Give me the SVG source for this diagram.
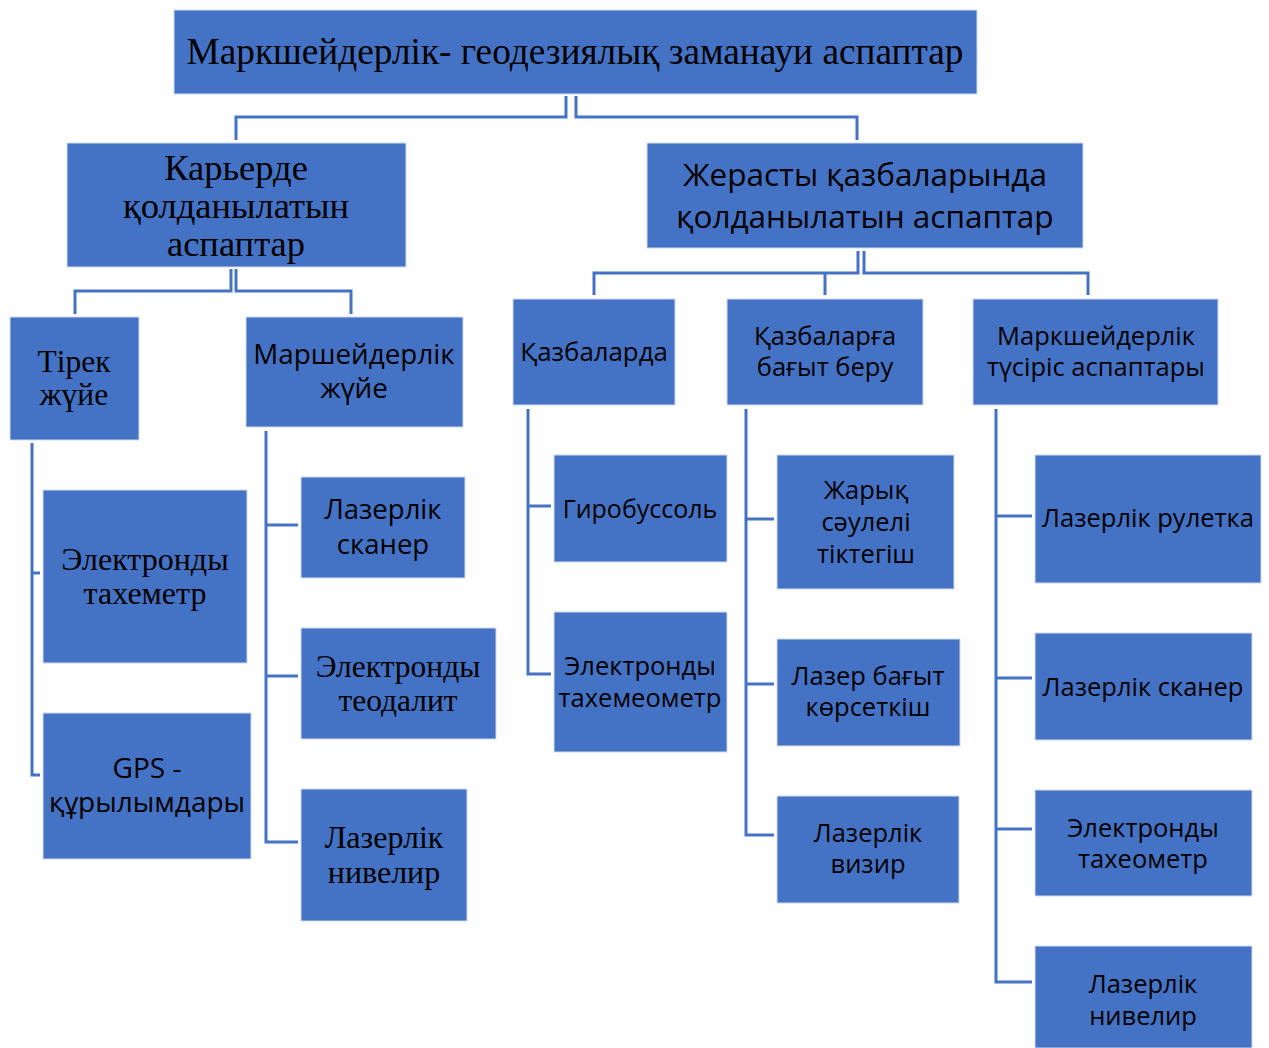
<svg xmlns="http://www.w3.org/2000/svg" width="1269" height="1048" viewBox="0 0 1269 1048">
<style>
.b{fill:#4472C4;stroke:#cfdaf0;stroke-width:1}
.s{font-family:"Open Sans","Noto Sans","Liberation Sans",sans-serif;fill:#000;text-anchor:middle}
.t{font-family:"Liberation Serif","Times New Roman",serif;fill:#000;text-anchor:middle}
.c{fill:none;stroke:#4472C4;stroke-width:3}
</style>
<rect width="1269" height="1048" fill="#fff"/>
<g id="connectors">
<path class="c" d="M566 96V117H236V140M576 96V117H857V140"/>
<path class="c" d="M231 269V291H75V314M236 269V291H351V314"/>
<path class="c" d="M858 251V273H594V295M864 251V273H1088V295M825 273V295"/>
<path class="c" d="M32 443V775H40M32 573H40"/>
<path class="c" d="M266 431V842H298M266 525H298M266 676H298"/>
<path class="c" d="M528 409V674H551M528 506H551"/>
<path class="c" d="M746 409V835H774M746 519H774M746 684H774"/>
<path class="c" d="M996 409V982H1032M996 516H1032M996 678H1032M996 829H1032"/>
</g>
<g id="root"><rect class="b" x="174" y="10" width="803" height="84"/><text class="t" x="575" y="64" font-size="37.3">Маркшейдерлік- геодезиялық заманауи аспаптар</text></g>
<g id="karer"><rect class="b" x="67" y="143" width="339" height="124"/><text class="t" font-size="36.5"><tspan x="236" y="180">Карьерде</tspan><tspan x="236" y="218">қолданылатын</tspan><tspan x="236" y="256">аспаптар</tspan></text></g>
<g id="zherasty"><rect class="b" x="647" y="143" width="436" height="105"/><text class="s" font-size="31.5"><tspan x="865" y="186">Жерасты қазбаларында</tspan><tspan x="865" y="228">қолданылатын аспаптар</tspan></text></g>
<g id="tirek"><rect class="b" x="10" y="317" width="129" height="123"/><text class="t" font-size="31.5"><tspan x="74" y="372">Тірек</tspan><tspan x="74" y="405">жүйе</tspan></text></g>
<g id="marsh"><rect class="b" x="246" y="317" width="217" height="110"/><text class="s" font-size="27.8"><tspan x="354" y="364">Маршейдерлік</tspan><tspan x="354" y="398">жүйе</tspan></text></g>
<g id="el-tah"><rect class="b" x="43" y="490" width="204" height="173"/><text class="t" font-size="32"><tspan x="145" y="570">Электронды</tspan><tspan x="145" y="604">тахеметр</tspan></text></g>
<g id="gps"><rect class="b" x="43" y="713" width="208" height="146"/><text class="s" font-size="28"><tspan x="147" y="778">GPS -</tspan><tspan x="147" y="812">құрылымдары</tspan></text></g>
<g id="laz-scan1"><rect class="b" x="301" y="477" width="164" height="101"/><text class="s" font-size="27.5"><tspan x="383" y="519">Лазерлік</tspan><tspan x="383" y="554">сканер</tspan></text></g>
<g id="el-teo"><rect class="b" x="301" y="628" width="195" height="111"/><text class="t" font-size="31.5"><tspan x="398" y="677">Электронды</tspan><tspan x="398" y="711">теодалит</tspan></text></g>
<g id="laz-niv1"><rect class="b" x="301" y="789" width="166" height="132"/><text class="t" font-size="32"><tspan x="384" y="848">Лазерлік</tspan><tspan x="384" y="883">нивелир</tspan></text></g>
<g id="kazb"><rect class="b" x="513" y="299" width="162" height="106"/><text class="s" x="594" y="361" font-size="25.8">Қазбаларда</text></g>
<g id="kazb-bag"><rect class="b" x="727" y="299" width="196" height="106"/><text class="s" font-size="25.5"><tspan x="825" y="345">Қазбаларға</tspan><tspan x="825" y="376">бағыт беру</tspan></text></g>
<g id="mark-tus"><rect class="b" x="973" y="299" width="245" height="106"/><text class="s" font-size="25.5"><tspan x="1096" y="345">Маркшейдерлік</tspan><tspan x="1096" y="376">түсіріс аспаптары</tspan></text></g>
<g id="giro"><rect class="b" x="554" y="455" width="173" height="107"/><text class="s" x="640" y="518" font-size="25">Гиробуссоль</text></g>
<g id="el-tahem"><rect class="b" x="554" y="612" width="173" height="140"/><text class="s" font-size="25.5"><tspan x="640" y="675">Электронды</tspan><tspan x="640" y="707">тахемеометр</tspan></text></g>
<g id="zharyk"><rect class="b" x="777" y="455" width="177" height="134"/><text class="s" font-size="25.5"><tspan x="866" y="499">Жарық</tspan><tspan x="866" y="531">сәулелі</tspan><tspan x="866" y="563">тіктегіш</tspan></text></g>
<g id="laz-bag"><rect class="b" x="777" y="639" width="183" height="107"/><text class="s" font-size="25.5"><tspan x="868" y="685">Лазер бағыт</tspan><tspan x="868" y="716">көрсеткіш</tspan></text></g>
<g id="laz-viz"><rect class="b" x="777" y="796" width="182" height="107"/><text class="s" font-size="25.5"><tspan x="868" y="842">Лазерлік</tspan><tspan x="868" y="873">визир</tspan></text></g>
<g id="laz-rul"><rect class="b" x="1035" y="455" width="226" height="128"/><text class="s" x="1148" y="527" font-size="25.5">Лазерлік рулетка</text></g>
<g id="laz-scan2"><rect class="b" x="1035" y="633" width="217" height="107"/><text class="s" x="1143" y="696" font-size="25.5">Лазерлік сканер</text></g>
<g id="el-taheo"><rect class="b" x="1035" y="790" width="217" height="106"/><text class="s" font-size="25.5"><tspan x="1143" y="837">Электронды</tspan><tspan x="1143" y="868">тахеометр</tspan></text></g>
<g id="laz-niv2"><rect class="b" x="1035" y="946" width="217" height="102"/><text class="s" font-size="25.5"><tspan x="1143" y="993">Лазерлік</tspan><tspan x="1143" y="1025">нивелир</tspan></text></g>
</svg>
